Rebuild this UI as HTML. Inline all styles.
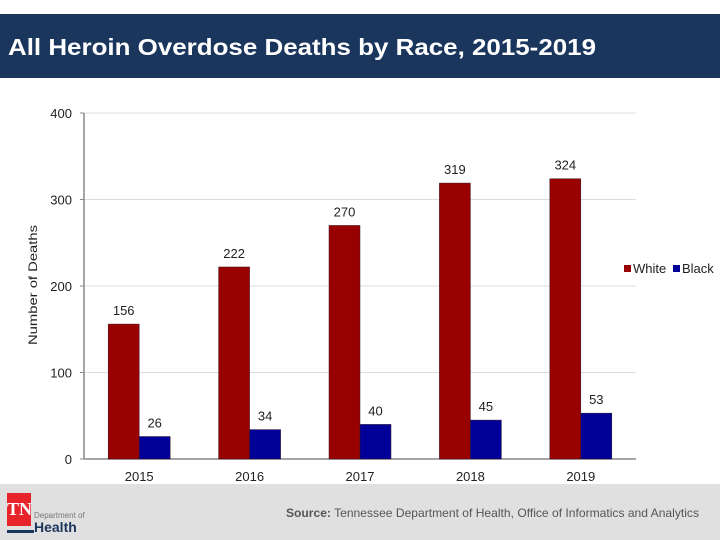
<!DOCTYPE html>
<html><head><meta charset="utf-8"><style>
body{margin:0;width:720px;height:540px;background:#fff;overflow:hidden;font-family:"Liberation Sans",sans-serif;position:relative}
#hdr{position:absolute;left:0;top:14px;width:720px;height:64px;background:#1b365d}
#ftr{position:absolute;left:0;top:484px;width:720px;height:56px;background:#e0e0e0}
</style></head><body>
<div id="hdr">
<svg width="720" height="64" style="position:absolute;left:0;top:0"><text x="8" y="41" fill="#fff" font-size="23" font-weight="bold" textLength="588" lengthAdjust="spacingAndGlyphs">All Heroin Overdose Deaths by Race, 2015-2019</text></svg>
</div>
<div id="ftr">
<div style="position:absolute;left:7px;top:9px;width:24px;height:33px;background:#e8242b;color:#fff;font-family:'Liberation Serif',serif;font-weight:bold;font-size:18px;line-height:33px;text-align:center">TN</div>
<div style="position:absolute;left:7px;top:46px;width:27px;height:3px;background:#1b365d"></div>
<div style="position:absolute;left:34px;top:27px;font-size:8px;color:#777">Department of</div>
<div style="position:absolute;left:34px;top:35px;font-size:14px;font-weight:bold;color:#1b365d">Health</div>
<svg width="720" height="56" style="position:absolute;left:0;top:0"><text x="286" y="33" font-size="12" fill="#555" textLength="413" lengthAdjust="spacingAndGlyphs"><tspan font-weight="bold">Source:</tspan> Tennessee Department of Health, Office of Informatics and Analytics</text></svg>
</div>
<svg id="chart" width="720" height="540" style="position:absolute;left:0;top:0"></svg>
<script>
const categories=["2015","2016","2017","2018","2019"];
const whiteVals=[156,222,270,319,324];
const blackVals=[26,34,40,45,53];
const yTicks=[0,100,200,300,400];
const svg=document.getElementById('chart');const NS='http://www.w3.org/2000/svg';
const X0=84,X1=636,Y0=459,Y1=113,YMAX=400;
const y=v=>Y0-(v/YMAX)*(Y0-Y1);
const band=(X1-X0)/categories.length;
const cx=i=>X0+band*(i+0.5);
function mk(t,a,p){const e=document.createElementNS(NS,t);for(const k in a)e.setAttribute(k,a[k]);(p||svg).appendChild(e);return e;}
yTicks.forEach(v=>{
 if(v>0){const g=mk('line',{x1:X0,x2:X1,y1:y(v),y2:y(v),stroke:'#dcdcdc','stroke-width':1});
 
 }
 mk('line',{x1:X0-4,x2:X0,y1:y(v),y2:y(v),stroke:'#888'});
 const t=mk('text',{x:72,y:y(v)+5,'text-anchor':'end','font-size':13,fill:'#222'});t.textContent=v;
 
 
});
mk('line',{x1:X0,x2:X0,y1:Y1,y2:Y0,stroke:'#888','stroke-width':1.5});
mk('line',{x1:X0,x2:X1,y1:Y0,y2:Y0,stroke:'#888','stroke-width':1.5});
const yt=mk('text',{transform:'translate(37,345) rotate(-90)','font-size':12,fill:'#222',textLength:120,lengthAdjust:'spacingAndGlyphs'});yt.textContent='Number of Deaths';


const bw=31;
categories.forEach((c,i)=>{
 const m=cx(i);
 [[whiteVals[i],'#990000',m-bw,'white'],[blackVals[i],'#000099',m,'black']].forEach(([v,col,x,n])=>{
  const r=mk('rect',{x:x,y:y(v),width:bw,height:Y0-y(v),fill:col,stroke:'#3a1a2a','stroke-width':0.5});
  
  
  const t=mk('text',{x:x+bw/2,y:y(v)-9,'text-anchor':'middle','font-size':13,fill:'#222'});t.textContent=v;
  
  
 });
 const t=mk('text',{x:m,y:481,'text-anchor':'middle','font-size':13,fill:'#222'});t.textContent=c;
 
 
});
[['White','#990000',624],['Black','#000099',673]].forEach(([n,col,x])=>{
 const r=mk('rect',{x:x,y:265,width:7,height:7,fill:col});
 
 
 const t=mk('text',{x:x+9,y:273,'font-size':13,fill:'#222'});t.textContent=n;
 
 
});
</script>
</body></html>
